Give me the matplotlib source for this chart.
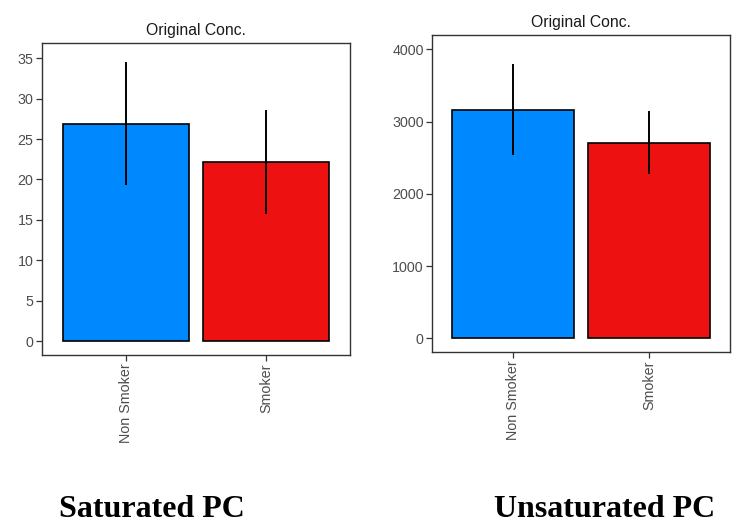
import matplotlib
matplotlib.use("Agg")
import matplotlib.pyplot as plt

categories = ["Non Smoker", "Smoker"]
sat_means = [26.85, 22.1]
sat_err_low = [19.4, 15.9]
sat_err_high = [34.35, 28.45]
unsat_means = [3160, 2707]
unsat_err_low = [2547, 2284]
unsat_err_high = [3783, 3128]
sat_ticks = [0, 5, 10, 15, 20, 25, 30, 35]
unsat_ticks = [0, 1000, 2000, 3000, 4000]
colors = ["#0088FF", "#EE1111"]
panel_titles = ["Original Conc.", "Original Conc."]
captions = ["Saturated PC", "Unsaturated PC"]

W, H = 733, 530
fig = plt.figure(figsize=(W / 100, H / 100), dpi=100)

def px_axes(x0, y0, x1, y1):
    return fig.add_axes([x0 / W, 1 - y1 / H, (x1 - x0) / W, (y1 - y0) / H])

def draw(ax, means, lo, hi, ticks, ylim, title):
    xs = [1, 2]
    ax.bar(xs, means, width=0.9, color=colors, edgecolor="black", linewidth=1.2, zorder=2)
    for x, l, h in zip(xs, lo, hi):
        ax.plot([x, x], [l, h], color="black", linewidth=1.4, zorder=3)
    ax.set_xlim(0.4, 2.6)
    ax.set_ylim(*ylim)
    ax.set_xticks(xs)
    ax.set_xticklabels(categories, rotation=90, family="Liberation Sans", fontsize=10.3, color="#4d4d4d")
    ax.set_yticks(ticks)
    ax.set_yticklabels([str(t) for t in ticks], family="Liberation Sans", fontsize=10.3, color="#4d4d4d")
    ax.tick_params(axis="both", length=4, width=0.9, color="#333333", pad=2)
    for s in ax.spines.values():
        s.set_color("#333333")
        s.set_linewidth(1.0)
    ax.set_title(title, family="Liberation Sans", fontsize=11.3, color="#1a1a1a", pad=6)

ax1 = px_axes(41.7, 43.3, 350, 355)
draw(ax1, sat_means, sat_err_low, sat_err_high, sat_ticks, (-1.73, 36.85), panel_titles[0])
ax2 = px_axes(432, 35, 730.3, 352.3)
draw(ax2, unsat_means, unsat_err_low, unsat_err_high, unsat_ticks, (-194, 4198), panel_titles[1])

fig.text(152 / W, 1 - 516.7 / H, captions[0], ha="center", va="baseline",
         family="Liberation Serif", fontweight="bold", fontsize=23)
fig.text(605 / W, 1 - 516.7 / H, captions[1], ha="center", va="baseline",
         family="Liberation Serif", fontweight="bold", fontsize=23)

fig.savefig("out.png", dpi=100, facecolor="white")
